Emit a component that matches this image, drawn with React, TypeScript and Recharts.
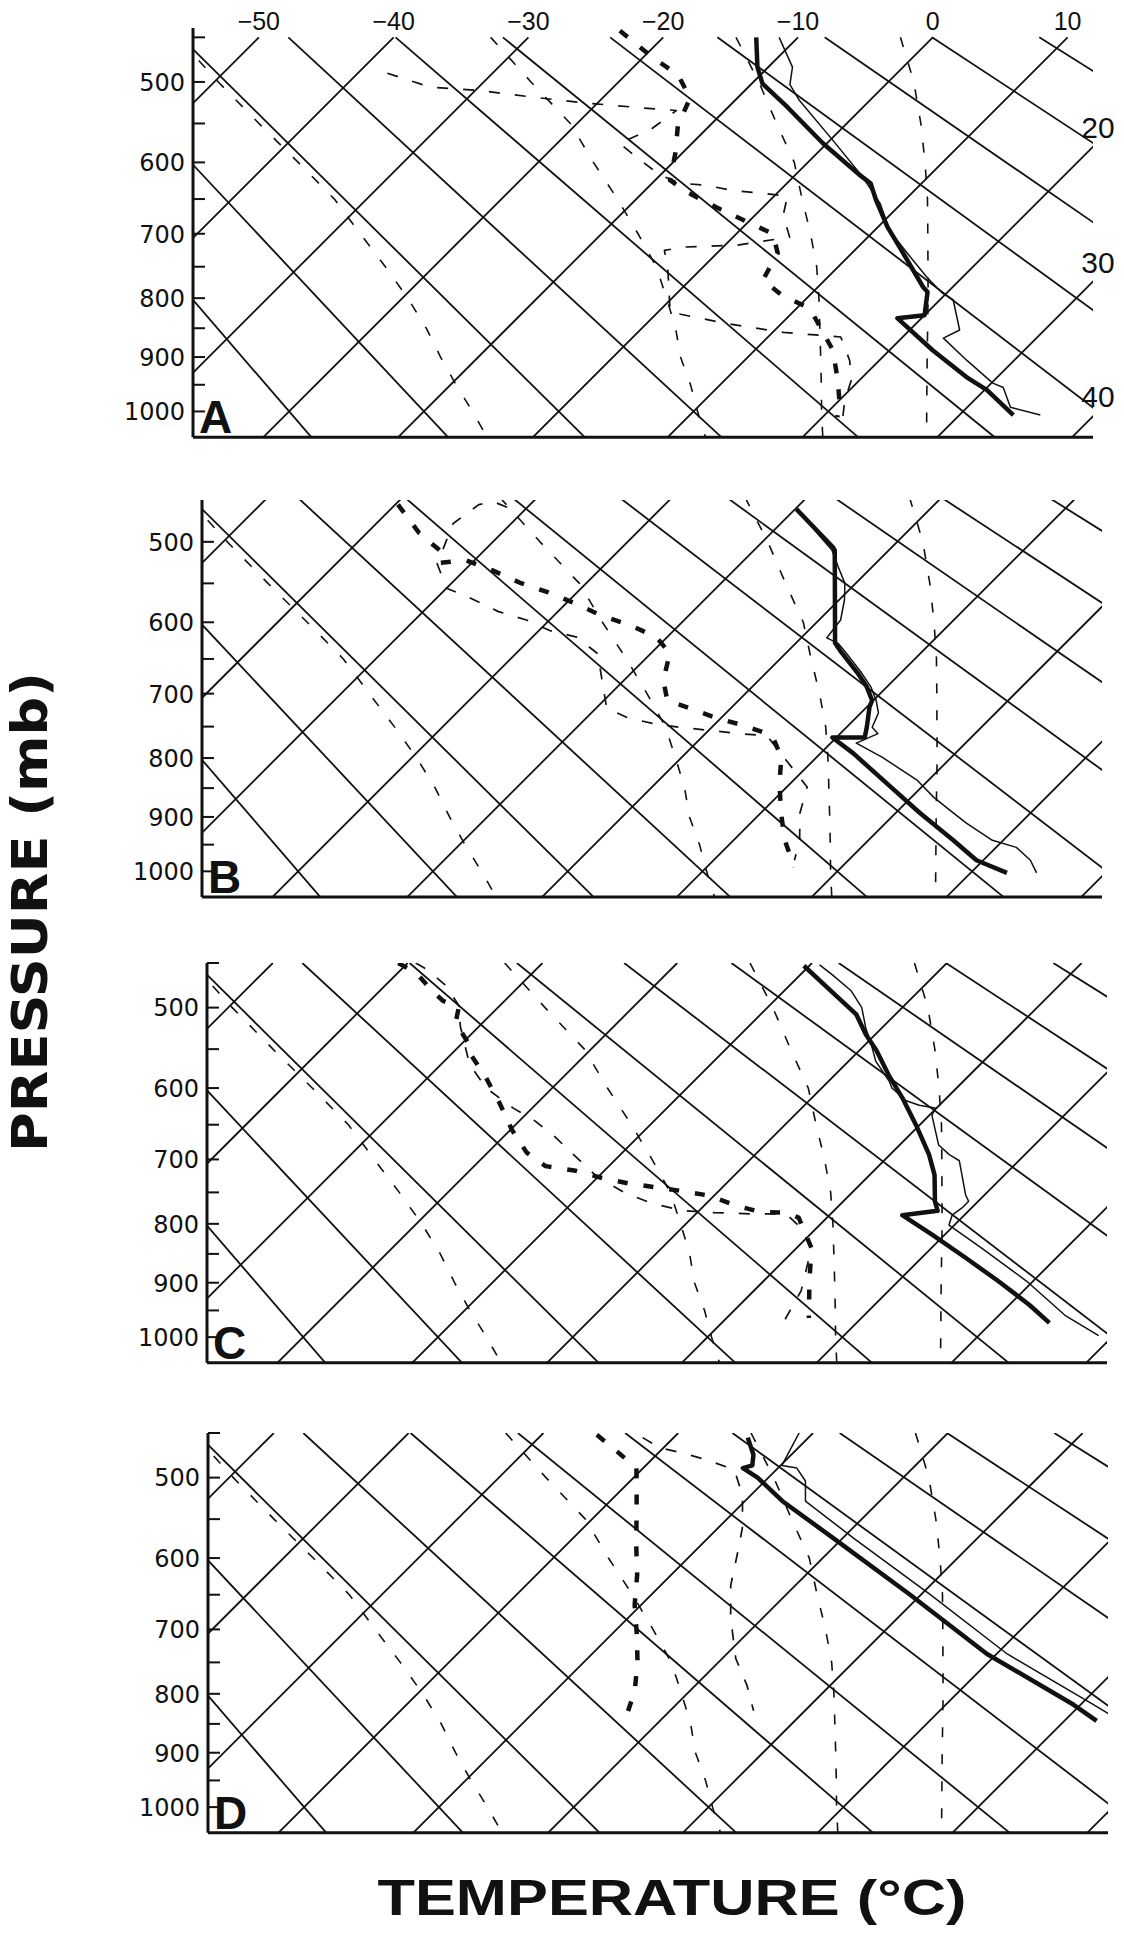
import React from 'react';
import { LineChart, Line, XAxis, YAxis, ReferenceDot } from 'recharts';

// ---- diagram projection (skewed p^kappa chart) ----
const KAPPA = 0.286;
const pk = (p: number) => Math.pow(p, KAPPA);
const P_BOTTOM = 1050;
const P_GRID_TOP = 450;
const PK_BOTTOM = pk(P_BOTTOM);
const PX_PER_DEG = 13.48;
const PX_PER_PK = 254.1;
const SKEW = PX_PER_PK / PX_PER_DEG; // isotherms at 45 degrees
const PLOT_W = 900;
const X_MIN = -25.22;
const X_MAX = X_MIN + PLOT_W / PX_PER_DEG;
const PAGE_W = 1124;
const Y_AXIS_W = 100;
const MARGIN_TOP = 40;
const MARGIN_BOTTOM = 10;
const X_AXIS_H = 1;

const skewX = (t: number, p: number) => t + SKEW * (PK_BOTTOM - pk(p));
type Pt = [number, number]; // [pressure mb, temperature C]
const toXY = (pts: Pt[]) => pts.map(([p, t]) => ({ x: skewX(t, p), y: pk(p) }));

// ---- background lines ----
const ISOTHERMS = [-50, -40, -30, -20, -10, 0, 10, 20, 30, 40];
const DRY_ADIABATS = [-20, -10, 0, 10, 20, 30, 40, 50, 60, 70, 80];
const TICK_PRESSURES = [450, 500, 550, 600, 650, 700, 750, 800, 850, 900, 950, 1000];
const TOP_LABELS = [-50, -40, -30, -20, -10, 0, 10];
const RIGHT_LABELS = [20, 30, 40];

const MOIST_1: Pt[] = [[450, -55.5], [475, -52.8], [500, -49.7], [550, -43.6], [600, -37.8], [650, -32.4], [700, -27.9], [750, -23.6], [800, -19.6], [850, -16.0], [900, -12.8], [950, -9.6], [1000, -6.4], [1050, -3.4]];
const MOIST_2: Pt[] = [[450, -32.8], [500, -26.5], [550, -20.5], [600, -15.9], [650, -11.4], [700, -7.3], [750, -3.5], [800, -0.4], [850, 2.5], [900, 5.0], [950, 7.8], [1000, 10.3], [1050, 12.8]];
const MOIST_3: Pt[] = [[450, -14.6], [500, -9.6], [550, -5.2], [600, -1.0], [650, 2.3], [700, 5.5], [750, 8.4], [800, 10.9], [850, 13.2], [900, 15.4], [950, 17.5], [1000, 19.5], [1050, 21.5]];
const MOIST_4: Pt[] = [[450, -2.4], [500, 1.9], [550, 5.5], [600, 8.7], [650, 11.6], [700, 14.2], [800, 19.0], [900, 23.3], [1000, 27.3], [1050, 29.2]];
const MOIST = [MOIST_1, MOIST_2, MOIST_3, MOIST_4];

// ---- soundings ----
const A_TEMP: Pt[] = [[450, -13.1], [483, -10.8], [502, -9.2], [530, -5.6], [575, -0.3], [617, 4.8], [628, 6.2], [652, 7.9], [690, 10.7], [720, 13.1], [782, 17.8], [790, 18.5], [828, 20.0], [833, 18.2], [888, 23.2], [936, 27.7], [960, 30.2], [1007, 34.0]];
const A_TEMP_2: Pt[] = [[450, -11.4], [483, -8.2], [503, -7.1], [522, -5.2], [571, 0.2], [620, 5.2], [656, 8.4], [695, 11.1], [729, 14.1], [767, 17.4], [792, 19.7], [803, 21.0], [853, 23.7], [867, 23.1], [906, 26.5], [947, 30.1], [955, 31.2], [992, 33.2], [1007, 36.0]];
const A_DEW: Pt[] = [[443, -23.7], [472, -19.3], [492, -16.1], [519, -13.5], [552, -12.4], [588, -10.5], [624, -8.9], [642, -6.5], [662, -3.4], [680, -0.5], [700, 2.7], [729, 4.5], [771, 5.4], [795, 7.9], [817, 11.0], [888, 15.8], [942, 18.4], [979, 20.0], [1011, 21.1]];
const A_DEW_2: Pt[] = [[490, -37.8], [506, -33.6], [510, -29.7], [518, -25.2], [525, -20.8], [531, -16.2], [534, -13.6], [558, -14.1], [575, -15.4], [597, -12.6], [617, -10.0], [628, -7.9], [631, -5.8], [638, -3.5], [642, -1.0], [646, 1.0], [673, 2.1], [705, 4.2], [717, 0.9], [720, -3.0], [725, -4.1], [755, -2.4], [823, 0.9], [842, 5.9], [857, 10.8], [865, 15.4], [906, 17.8], [942, 19.4], [979, 20.4], [1011, 21.5]];

const B_TEMP: Pt[] = [[463, -9.9], [483, -7.3], [506, -4.4], [510, -4.0], [628, 2.9], [638, 3.8], [670, 6.8], [690, 8.5], [710, 9.9], [720, 10.2], [751, 11.5], [767, 12.1], [767, 9.7], [792, 12.4], [848, 17.7], [893, 21.8], [942, 26.3], [979, 29.5], [1003, 32.7]];
const B_TEMP_2: Pt[] = [[463, -9.9], [510, -4.2], [530, -2.5], [550, -0.8], [571, 0.4], [597, 1.6], [621, 1.9], [628, 3.1], [638, 4.1], [670, 7.1], [690, 8.8], [710, 10.2], [729, 11.3], [751, 11.9], [761, 12.8], [776, 11.9], [799, 14.9], [836, 19.1], [865, 21.6], [888, 23.8], [911, 26.0], [942, 29.2], [955, 31.5], [979, 33.5], [1003, 34.9]];
const B_DEW: Pt[] = [[458, -39.8], [490, -36.1], [510, -33.3], [525, -32.5], [522, -30.6], [534, -27.9], [549, -25.0], [561, -22.2], [575, -19.4], [591, -16.5], [604, -13.6], [620, -10.8], [642, -8.6], [680, -7.1], [710, -5.3], [722, -3.0], [737, -0.3], [748, 2.2], [764, 5.1], [799, 7.4], [840, 9.1], [891, 11.4], [942, 13.8], [992, 16.5]];
const B_DEW_2: Pt[] = [[461, -31.5], [455, -32.9], [458, -33.8], [479, -34.3], [526, -32.5], [556, -30.0], [568, -27.6], [586, -24.4], [597, -21.7], [611, -19.2], [620, -16.7], [642, -14.0], [656, -13.1], [722, -9.2], [736, -7.0], [745, -4.7], [751, -2.4], [756, 0.1], [761, 2.5], [764, 4.7], [848, 11.5], [893, 12.9], [942, 14.9], [979, 16.0]];

const C_TEMP: Pt[] = [[453, -10.4], [481, -6.5], [508, -2.9], [532, -0.7], [552, 1.3], [583, 4.0], [613, 6.7], [650, 9.7], [693, 12.9], [723, 14.8], [764, 16.8], [779, 17.7], [786, 15.4], [818, 19.1], [857, 23.3], [897, 27.4], [940, 31.5], [973, 34.3]];
const C_TEMP_2: Pt[] = [[452, -9.3], [463, -7.6], [481, -5.0], [500, -3.0], [524, -1.2], [545, 0.5], [565, 2.0], [591, 4.5], [600, 5.2], [617, 7.2], [623, 8.5], [627, 9.9], [637, 10.2], [679, 12.9], [693, 14.4], [702, 15.6], [754, 18.6], [764, 19.3], [774, 19.3], [786, 19.1], [802, 19.6], [840, 23.7], [897, 29.5], [959, 34.9], [997, 38.9]];
const C_DEW: Pt[] = [[450, -40.7], [461, -38.6], [480, -36.2], [492, -34.6], [500, -32.9], [518, -32.0], [543, -29.5], [556, -28.6], [585, -25.8], [620, -22.8], [657, -19.9], [690, -17.1], [710, -14.7], [717, -12.1], [728, -9.6], [736, -7.3], [742, -5.0], [748, -2.7], [755, -0.4], [771, 2.4], [781, 4.7], [782, 6.6], [790, 7.9], [840, 11.1], [897, 13.4], [964, 16.1]];
const C_DEW_2: Pt[] = [[450, -39.4], [457, -38.1], [474, -35.6], [498, -33.0], [522, -31.4], [569, -27.9], [600, -24.9], [627, -21.4], [645, -18.8], [667, -16.2], [725, -10.2], [751, -6.8], [768, -3.9], [779, -1.1], [782, 1.3], [784, 4.3], [784, 6.7], [803, 8.5], [840, 11.1], [914, 13.5], [970, 14.5]];

const D_TEMP: Pt[] = [[455, -14.5], [474, -12.8], [486, -12.1], [489, -12.6], [500, -10.8], [528, -7.2], [574, -0.7], [650, 9.2], [737, 19.3], [818, 29.5], [845, 32.4]];
const D_TEMP_2: Pt[] = [[448, -11.1], [486, -9.9], [489, -8.6], [504, -7.0], [528, -5.5], [574, 0.8], [650, 10.7], [737, 20.8], [818, 31.0], [835, 33.0]];
const D_DEW: Pt[] = [[452, -25.9], [470, -23.2], [489, -20.5], [509, -19.2], [545, -17.0], [583, -14.8], [623, -12.5], [664, -10.5], [708, -8.1], [748, -6.1], [795, -4.1], [835, -2.9], [845, -2.6]];
const D_DEW_2: Pt[] = [[455, -22.3], [466, -20.3], [472, -18.2], [480, -15.8], [491, -13.1], [521, -10.6], [561, -8.2], [591, -6.8], [637, -4.8], [683, -2.4], [744, 1.0], [786, 3.8], [828, 6.2]];

// panel placement on the page (plot left, plot bottom, top pressure of the axis)
const PANELS = [
  { id: 'A', left: 193, bottom: 437, topP: 440, temp: A_TEMP, temp2: A_TEMP_2, dew: A_DEW, dew2: A_DEW_2 },
  { id: 'B', left: 202, bottom: 897, topP: 453, temp: B_TEMP, temp2: B_TEMP_2, dew: B_DEW, dew2: B_DEW_2 },
  { id: 'C', left: 207, bottom: 1363, topP: 450, temp: C_TEMP, temp2: C_TEMP_2, dew: C_DEW, dew2: C_DEW_2 },
  { id: 'D', left: 208, bottom: 1833, topP: 450, temp: D_TEMP, temp2: D_TEMP_2, dew: D_DEW, dew2: D_DEW_2 },
];

const adiabatT = (theta: number, p: number) => (theta + 273.15) * Math.pow(p / 1000, KAPPA) - 273.15;
const isothermLine = (t: number) => toXY([[P_BOTTOM, t], [P_GRID_TOP, t]]);
const adiabatLine = (theta: number) =>
  toXY([[P_GRID_TOP, adiabatT(theta, P_GRID_TOP)], [P_BOTTOM, adiabatT(theta, P_BOTTOM)]]);
const fmtT = (t: number) => (t < 0 ? `\u2212${Math.abs(t)}` : `${t}`);

const INK = '#111';

const PressureTick = (props: any) => {
  const { x, y, payload } = props;
  const p = Math.round(Math.pow(payload.value, 1 / KAPPA) / 10) * 10;
  return (
    <g>
      <line x1={x} x2={x + 12} y1={y} y2={y} stroke={INK} strokeWidth={2} />
      {p % 100 === 0 && (
        <text x={x - 8} y={y} dy="0.37em" textAnchor="end" fontFamily="DejaVu Sans, sans-serif" fontSize={24} fill={INK}>
          {p}
        </text>
      )}
    </g>
  );
};

function SkewPanel({ panel, scaleLabels }: { panel: typeof PANELS[number]; scaleLabels: boolean }) {
  const plotH = PX_PER_PK * (PK_BOTTOM - pk(panel.topP));
  const chartH = MARGIN_TOP + plotH + X_AXIS_H + MARGIN_BOTTOM;
  const ticks = TICK_PRESSURES.filter((p) => p >= panel.topP).map(pk);
  const common = { dataKey: 'y', dot: false, activeDot: false, isAnimationActive: false, type: 'linear' as const, strokeLinejoin: 'round' as const };
  return (
    <div style={{ position: 'absolute', left: 0, top: panel.bottom - plotH - MARGIN_TOP, width: PAGE_W, height: chartH }}>
      <LineChart
        width={PAGE_W}
        height={chartH}
        margin={{ top: MARGIN_TOP, right: PAGE_W - panel.left - PLOT_W, bottom: MARGIN_BOTTOM, left: panel.left - Y_AXIS_W }}
      >
        <XAxis
          type="number"
          dataKey="x"
          domain={[X_MIN, X_MAX]}
          allowDataOverflow
          tick={false}
          tickLine={false}
          height={X_AXIS_H}
          axisLine={{ stroke: INK, strokeWidth: 3 }}
        />
        <YAxis
          type="number"
          domain={[pk(panel.topP), PK_BOTTOM]}
          reversed
          allowDataOverflow
          ticks={ticks}
          interval={0}
          tickLine={false}
          tickSize={0}
          tickMargin={0}
          width={Y_AXIS_W}
          axisLine={{ stroke: INK, strokeWidth: 3 }}
          tick={<PressureTick />}
        />
        {ISOTHERMS.map((t) => (
          <Line key={`iso${t}`} {...common} data={isothermLine(t)} stroke={INK} strokeWidth={1.8} />
        ))}
        {DRY_ADIABATS.map((th) => (
          <Line key={`dry${th}`} {...common} data={adiabatLine(th)} stroke={INK} strokeWidth={1.8} />
        ))}
        {MOIST.map((m, i) => (
          <Line key={`moist${i}`} {...common} data={toXY(m)} stroke={INK} strokeWidth={1.6} strokeDasharray="10 17" />
        ))}
        <Line {...common} data={toXY(panel.dew2)} stroke={INK} strokeWidth={1.7} strokeDasharray="11 15" />
        <Line {...common} data={toXY(panel.dew)} stroke={INK} strokeWidth={4.5} strokeDasharray="10 16" />
        <Line {...common} data={toXY(panel.temp2)} stroke={INK} strokeWidth={1.5} />
        <Line {...common} data={toXY(panel.temp)} stroke={INK} strokeWidth={4.5} />
        {scaleLabels &&
          TOP_LABELS.map((t) => (
            <ReferenceDot
              key={`top${t}`}
              x={skewX(t, P_GRID_TOP)}
              y={pk(P_GRID_TOP)}
              r={0}
              ifOverflow="visible"
              shape={(sp: any) => (
                <text x={sp.cx} y={sp.cy - 7} textAnchor="middle" fontFamily="Liberation Sans, Arial, sans-serif" fontSize={25} fill={INK}>
                  {fmtT(t)}
                </text>
              )}
            />
          ))}
        {scaleLabels &&
          RIGHT_LABELS.map((t) => (
            <ReferenceDot
              key={`right${t}`}
              x={X_MAX}
              y={PK_BOTTOM - (X_MAX - t) / SKEW}
              r={0}
              ifOverflow="visible"
              shape={(sp: any) => (
                <text x={sp.cx + 5} y={sp.cy - 9} textAnchor="middle" fontFamily="Liberation Sans, Arial, sans-serif" fontSize={30} fill={INK}>
                  {fmtT(t)}
                </text>
              )}
            />
          ))}
      </LineChart>
    </div>
  );
}

export default function App() {
  return (
    <div style={{ position: 'absolute', left: 0, top: 0, width: PAGE_W, height: 1944, background: '#fff', overflow: 'hidden' }}>
      {PANELS.map((panel, i) => (
        <SkewPanel key={panel.id} panel={panel} scaleLabels={i === 0} />
      ))}
      <svg width={PAGE_W} height={1944} style={{ position: 'absolute', left: 0, top: 0, pointerEvents: 'none' }}>
        {PANELS.map((panel) => (
          <text
            key={panel.id}
            x={panel.left + 6}
            y={panel.bottom - 4}
            fontFamily="Liberation Sans, Arial, sans-serif"
            fontWeight={900}
            fontSize={46}
            fill={INK}
          >
            {panel.id}
          </text>
        ))}
        <text
          transform="translate(47, 912) rotate(-90)"
          textAnchor="middle"
          fontFamily="Liberation Sans Narrow, DejaVu Sans Condensed, sans-serif"
          fontWeight={700}
          fontSize={50}
          textLength={480}
          lengthAdjust="spacingAndGlyphs"
          fill={INK}
        >
          PRESSURE (mb)
        </text>
        <text
          x={672}
          y={1915}
          textAnchor="middle"
          fontFamily="Liberation Sans, Arial, sans-serif"
          fontWeight={700}
          fontSize={50}
          textLength={589}
          lengthAdjust="spacingAndGlyphs"
          fill={INK}
        >
          TEMPERATURE (°C)
        </text>
      </svg>
    </div>
  );
}
